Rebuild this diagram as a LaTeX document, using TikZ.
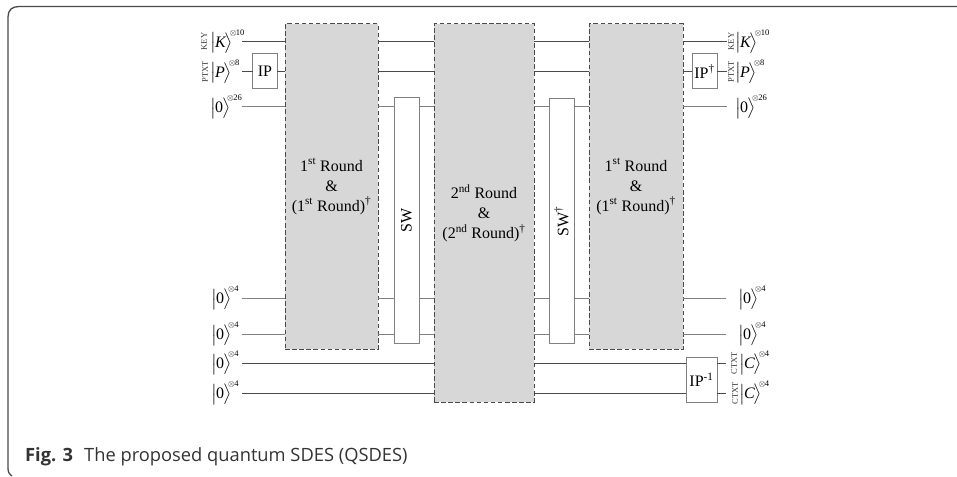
\documentclass[tikz,border=0pt]{standalone}
\usepackage{amsmath}
\usepackage{fontspec}
\setmainfont{Liberation Serif}
\newfontfamily\capfont{Open Sans}
\usetikzlibrary{positioning,calc}

\definecolor{blockgray}{HTML}{D7D7D7}
\definecolor{wiredark}{HTML}{4A4A4A}
\definecolor{wirelight}{HTML}{808080}

\newcommand{\ketlabel}[2]{$\bigl|\mkern-1mu\text{#1}\mkern-1mu\bigr\rangle^{\mkern-5mu\raisebox{1.5pt}{\fontsize{8.5}{9}\selectfont$\otimes$\kern-0.5pt#2}}$}

\begin{document}
\begin{tikzpicture}[
    x=1pt,
    y=-1pt,
    block/.style={
        draw=wiredark,
        dashed,
        dash pattern=on 4.5pt off 2.6pt,
        fill=blockgray,
        line width=1pt,
        outer sep=0pt,
        minimum width=#1,
        align=center,
        font=\fontsize{16}{20}\selectfont
    },
    gatebox/.style={
        draw=wirelight,
        line width=1pt,
        outer sep=0pt,
        fill=white,
        inner sep=0pt,
        font=\fontsize{16}{20}\selectfont
    },
    ket/.style={
        anchor=west,
        inner sep=0pt,
        font=\fontsize{16}{20}\selectfont
    },
    regname/.style={
        rotate=90,
        inner sep=0pt,
        font=\fontsize{8.5}{9}\selectfont,
        text=black!80
    },
    darkwire/.style={
        draw=wiredark,
        line width=1pt
    },
    lightwire/.style={
        draw=wirelight,
        line width=1pt
    }
]

\useasboundingbox (0,0) rectangle (957,476);

%%%%%%%%%%%%%%%%%%%%%%%%%%%%%%%%%%%%%%%%%%%%%%%%%%%%
%% Frame and caption
%%%%%%%%%%%%%%%%%%%%%%%%%%%%%%%%%%%%%%%%%%%%%%%%%%%%

\draw[wiredark,line width=1.3pt] (957,6.5) -- (19,6.5)
    .. controls (12,6.5) and (8,10) .. (8,17)
    -- (8,468) .. controls (8,472) and (9,474) .. (12,476);

\node[anchor=base west,inner sep=0pt,text=black!80,font=\capfont\fontsize{18.3}{20}\selectfont] (caption)
at (25,461.7) {\textbf{Fig. 3}\hspace{11pt}The proposed quantum SDES (QSDES)};

%%%%%%%%%%%%%%%%%%%%%%%%%%%%%%%%%%%%%%%%%%%%%%%%%%%%
%% Round blocks
%%%%%%%%%%%%%%%%%%%%%%%%%%%%%%%%%%%%%%%%%%%%%%%%%%%%

\node[block=93pt,minimum height=325pt] (roundone) at (331.5,186.5)
{1\textsuperscript{st} Round\\ \&\\ (1\textsuperscript{st} Round)\textsuperscript{\dag}};

\node[block=100pt,minimum height=378pt,right=56pt of roundone,yshift=-26.5pt] (roundtwo)
{2\textsuperscript{nd} Round\\ \&\\ (2\textsuperscript{nd} Round)\textsuperscript{\dag}};

\node[block=94pt,minimum height=325pt,right=55pt of roundtwo,yshift=26.5pt] (roundthree)
{1\textsuperscript{st} Round\\ \&\\ (1\textsuperscript{st} Round)\textsuperscript{\dag}};

%%%%%%%%%%%%%%%%%%%%%%%%%%%%%%%%%%%%%%%%%%%%%%%%%%%%
%% Gates
%%%%%%%%%%%%%%%%%%%%%%%%%%%%%%%%%%%%%%%%%%%%%%%%%%%%

\node[gatebox,minimum width=25pt,minimum height=245pt] (swone) at (406.5,220.5)
{\rotatebox{90}{SW}};

\node[gatebox,minimum width=25pt,minimum height=245pt] (swtwo) at (561.5,221)
{\rotatebox{90}{SW\textsuperscript{\dag}}};

\node[gatebox,minimum width=24.5pt,minimum height=35pt] (ipone) at (265,71.5) {IP};

\node[gatebox,minimum width=25pt,minimum height=35pt] (iptwo) at (704.5,71.5)
{IP\textsuperscript{\dag}};

\node[gatebox,minimum width=31pt,minimum height=45pt] (ipinv) at (701.5,379.5)
{IP\textsuperscript{-1}};

%%%%%%%%%%%%%%%%%%%%%%%%%%%%%%%%%%%%%%%%%%%%%%%%%%%%
%% Input labels
%%%%%%%%%%%%%%%%%%%%%%%%%%%%%%%%%%%%%%%%%%%%%%%%%%%%

\node[regname] (keyin) at (204,41.5) {KEY};
\node[regname] (ptxtin) at (205,71.5) {PTXT};

\node[ket] (kin) at (210,41.5) {\ketlabel{\itshape K}{10}};
\node[ket] (pin) at (210,71.5) {\ketlabel{\itshape P}{8}};
\node[ket] (zeroa) at (210,107) {\ketlabel{0}{26}};
\node[ket] (zerob) at (211,298) {\ketlabel{0}{4}};
\node[ket] (zeroc) at (211,334) {\ketlabel{0}{4}};
\node[ket] (zerod) at (211,363) {\ketlabel{0}{4}};
\node[ket] (zeroe) at (211,393) {\ketlabel{0}{4}};

%%%%%%%%%%%%%%%%%%%%%%%%%%%%%%%%%%%%%%%%%%%%%%%%%%%%
%% Output labels
%%%%%%%%%%%%%%%%%%%%%%%%%%%%%%%%%%%%%%%%%%%%%%%%%%%%

\node[regname] (keyout) at (731,41.5) {KEY};
\node[regname] (ptxtout) at (731,71.5) {PTXT};
\node[regname] (ctxtone) at (734,363) {CTXT};
\node[regname] (ctxttwo) at (735,393) {CTXT};

\node[ket] (kout) at (735,41.5) {\ketlabel{\itshape K}{10}};
\node[ket] (pout) at (735,71.5) {\ketlabel{\itshape P}{8}};
\node[ket] (zerof) at (735,107) {\ketlabel{0}{26}};
\node[ket] (zerog) at (738,298) {\ketlabel{0}{4}};
\node[ket] (zeroh) at (738,334) {\ketlabel{0}{4}};
\node[ket] (cone) at (739,363) {\ketlabel{\itshape C}{4}};
\node[ket] (ctwo) at (739,393) {\ketlabel{\itshape C}{4}};

%%%%%%%%%%%%%%%%%%%%%%%%%%%%%%%%%%%%%%%%%%%%%%%%%%%%
%% Free wire ends
%%%%%%%%%%%%%%%%%%%%%%%%%%%%%%%%%%%%%%%%%%%%%%%%%%%%

\coordinate (ka) at (242,41.5);
\coordinate (pa) at (242,71.5);
\coordinate (za) at (242,107);
\coordinate (zb) at (242,298);
\coordinate (zc) at (242,334);
\coordinate (zd) at (242,363);
\coordinate (ze) at (242,393);

\coordinate (kz) at (727,41.5);
\coordinate (pz) at (727,71.5);
\coordinate (zf) at (727,107);
\coordinate (zg) at (726,298);
\coordinate (zh) at (726,334);
\coordinate (cy) at (726,363);
\coordinate (cz) at (726,393);

%%%%%%%%%%%%%%%%%%%%%%%%%%%%%%%%%%%%%%%%%%%%%%%%%%%%
%% KEY and PTXT wires
%%%%%%%%%%%%%%%%%%%%%%%%%%%%%%%%%%%%%%%%%%%%%%%%%%%%

\draw[darkwire] (ka) -- (roundone.west |- ka);
\draw[darkwire] (roundone.east |- ka) -- (roundtwo.west |- ka);
\draw[darkwire] (roundtwo.east |- ka) -- (roundthree.west |- ka);
\draw[darkwire] (roundthree.east |- kz) -- (kz);

\draw[darkwire] (pa) -- (ipone.west);
\draw[darkwire] (ipone.east) -- (roundone.west |- pa);
\draw[darkwire] (roundone.east |- pa) -- (roundtwo.west |- pa);
\draw[darkwire] (roundtwo.east |- pa) -- (roundthree.west |- pa);
\draw[darkwire] (roundthree.east |- pz) -- (iptwo.west);
\draw[darkwire] (iptwo.east) -- (pz);

%%%%%%%%%%%%%%%%%%%%%%%%%%%%%%%%%%%%%%%%%%%%%%%%%%%%
%% Ancilla wires through the SW gates
%%%%%%%%%%%%%%%%%%%%%%%%%%%%%%%%%%%%%%%%%%%%%%%%%%%%

\draw[lightwire] (za) -- (roundone.west |- za);
\draw[lightwire] (roundone.east |- za) -- (swone.west |- za);
\draw[lightwire] (swone.east |- za) -- (roundtwo.west |- za);
\draw[lightwire] (roundtwo.east |- za) -- (swtwo.west |- za);
\draw[lightwire] (swtwo.east |- za) -- (roundthree.west |- za);
\draw[lightwire] (roundthree.east |- zf) -- (zf);

\draw[lightwire] (zb) -- (roundone.west |- zb);
\draw[lightwire] (roundone.east |- zb) -- (swone.west |- zb);
\draw[lightwire] (swone.east |- zb) -- (roundtwo.west |- zb);
\draw[lightwire] (roundtwo.east |- zb) -- (swtwo.west |- zb);
\draw[lightwire] (swtwo.east |- zb) -- (roundthree.west |- zb);
\draw[lightwire] (roundthree.east |- zg) -- (zg);

\draw[lightwire] (zc) -- (roundone.west |- zc);
\draw[lightwire] (roundone.east |- zc) -- (swone.west |- zc);
\draw[lightwire] (swone.east |- zc) -- (roundtwo.west |- zc);
\draw[lightwire] (roundtwo.east |- zc) -- (swtwo.west |- zc);
\draw[lightwire] (swtwo.east |- zc) -- (roundthree.west |- zc);
\draw[lightwire] (roundthree.east |- zh) -- (zh);

%%%%%%%%%%%%%%%%%%%%%%%%%%%%%%%%%%%%%%%%%%%%%%%%%%%%
%% Lower wires
%%%%%%%%%%%%%%%%%%%%%%%%%%%%%%%%%%%%%%%%%%%%%%%%%%%%

\draw[darkwire] (zd) -- (roundtwo.west |- zd);
\draw[darkwire] (roundtwo.east |- zd) -- (ipinv.west |- zd);
\draw[darkwire] (ipinv.east |- cy) -- (cy);

\draw[darkwire] (ze) -- (roundtwo.west |- ze);
\draw[darkwire] (roundtwo.east |- ze) -- (ipinv.west |- ze);
\draw[darkwire] (ipinv.east |- cz) -- (cz);

\end{tikzpicture}
\end{document}
